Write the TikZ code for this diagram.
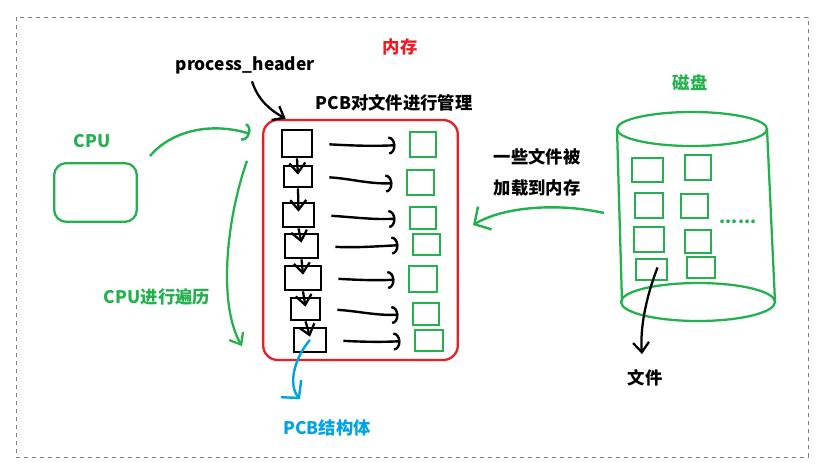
\documentclass[tikz,border=0pt]{standalone}
\usepackage{fontspec}
\setmainfont{Noto Sans CJK SC}
\usepackage{tikz}
\usetikzlibrary{arrows.meta, calc}
\definecolor{pcbred}{HTML}{ED1C24}
\definecolor{pcbgreen}{HTML}{22B14C}
\definecolor{pcbblue}{HTML}{00A2E8}
\definecolor{pcbgray}{HTML}{7F7F7F}
\tikzset{
  lbl/.style={font=\bfseries\fontsize{13}{15}\selectfont, inner sep=1pt},
  pcbbox/.style={draw=black, line width=2pt, inner sep=0pt},
  filebox/.style={draw=pcbgreen, line width=1.7pt, inner sep=0pt},
  membox/.style={draw=pcbred, line width=1.7pt, rounded corners=11pt, inner sep=0pt},
  cpubox/.style={draw=pcbgreen, line width=1.7pt, rounded corners=9pt, inner sep=0pt},
  arcarrow/.style={-{Arc Barb[length=1.8mm,width=4.8mm]}, line width=1.8pt},
  chain/.style={-{Straight Barb[length=2.6mm,width=4.2mm]}, line width=1.7pt},
  bigarrow/.style={-{Straight Barb[length=3.2mm,width=7mm]}, line width=1.8pt}
}

\begin{document}
\begin{tikzpicture}[x=0.75pt, y=-0.75pt]
  \useasboundingbox (0,0) rectangle (824,468);
  \draw[pcbgray, dashed, line width=0.6pt] (16,17) rectangle (808,457);

  % memory
  \node[membox, minimum width=146pt, minimum height=180pt] (mem) at (360.5,240) {};
  \node[lbl, text=pcbred] (memlbl) at (400,47) {内存};
  \node[lbl] (header) at (245,65) {process\_header};
  \node[lbl] (mgmt) at (394,103) {PCB对文件进行管理};

  \foreach \n/\x/\y/\w/\h in {1/297/143.5/30/27, 2/298/176.5/28/21, 3/298.5/215/31/24,
      4/301.5/246/33/24, 5/303/278/36/24, 6/305.5/309/29/22, 7/310/340/32/24}
    \node[pcbbox, minimum width=\w*0.75pt, minimum height=\h*0.75pt] (pcb\n) at (\x,\y) {};
  \foreach \n/\x/\y/\w/\h in {1/423/144.5/26/25, 2/420.5/182.5/27/25, 3/423/218/26/22,
      4/426.5/244.5/27/21, 5/423/279/28/26, 6/426/314/26/22, 7/429/340.5/28/21}
    \node[filebox, minimum width=\w*0.75pt, minimum height=\h*0.75pt] (file\n) at (\x,\y) {};

  \foreach \i [evaluate=\i as \j using int(\i+1)] in {1,...,6}
    \draw[chain] (pcb\i.south) -- ($(pcb\j.north)+(0,10)$);
  \foreach \i in {1,...,7}
    \draw[arcarrow, shorten <=12pt, shorten >=10pt] (pcb\i.east) to[out=-3, in=183] (file\i.west);

  \draw[chain] ($(header.south)+(7,6)$) .. controls (258,100) and (270,110) .. ($(pcb1.north west)+(5,-10)$);

  % pcb struct
  \node[lbl, text=pcbblue] (pcbstruct) at (327,428) {PCB结构体};
  \draw[bigarrow, draw=pcbblue] (pcb7.center) .. controls (294,358) and (288,385) .. ($(pcbstruct.north)+(-27,-19)$);

  % cpu
  \node[cpubox, minimum width=62pt, minimum height=44pt] (cpu) at (95.5,192.5) {};
  \node[lbl, text=pcbgreen] (cpulbl) at (92,141) {CPU};
  \draw[arcarrow, draw=pcbgreen] ($(cpu.north east)+(12,-6)$) .. controls (172,130) and (212,122) .. ($(mem.north west)+(-12,15)$);
  \node[lbl, text=pcbgreen] (trav) at (157,297) {CPU进行遍历};
  \draw[chain, draw=pcbgreen] ($(mem.north west)+(-15,42)$) .. controls (226,220) and (218,305) .. ($(mem.south west)+(-20,-15)$);

  % disk
  \node[lbl, text=pcbgreen] (disklbl) at (690,83) {磁盘};
  \draw[pcbgreen, line width=1.7pt] (692,129) ellipse [x radius=75, y radius=17];
  \draw[pcbgreen, line width=1.7pt] (698,302) ellipse [x radius=77, y radius=19];
  \draw[pcbgreen, line width=1.7pt] (617,129) -- (622,302) (767,129) -- (775,302);
  \foreach \n/\x/\y/\w/\h in {1/647.5/170/31/24, 2/698/167.5/26/25, 3/649/205.5/28/25,
      4/694.5/206/27/24, 5/649/239.5/30/25, 6/698/241.5/26/23, 7/651.5/269.5/31/21, 8/701/267.5/28/21}
    \node[filebox, minimum width=\w*0.75pt, minimum height=\h*0.75pt] (d\n) at (\x,\y) {};
  \node[lbl, text=pcbgreen] (dots) at (738,222) {......};
  \coordinate (diskw) at (604,213);

  \node[lbl] (load1) at (537,157) {一些文件被};
  \node[lbl] (load2) at (537,188) {加载到内存};
  \draw[bigarrow, draw=pcbgreen] (diskw) .. controls (560,203) and (505,206) .. ($(mem.east)+(14,-15)$);

  \node[lbl] (filetxt) at (645,378) {文件};
  \draw[chain] ($(d7.center)+(6,-2)$) .. controls (645,300) and (640,330) .. ($(filetxt.north)+(-3,-14)$);
\end{tikzpicture}
\end{document}
